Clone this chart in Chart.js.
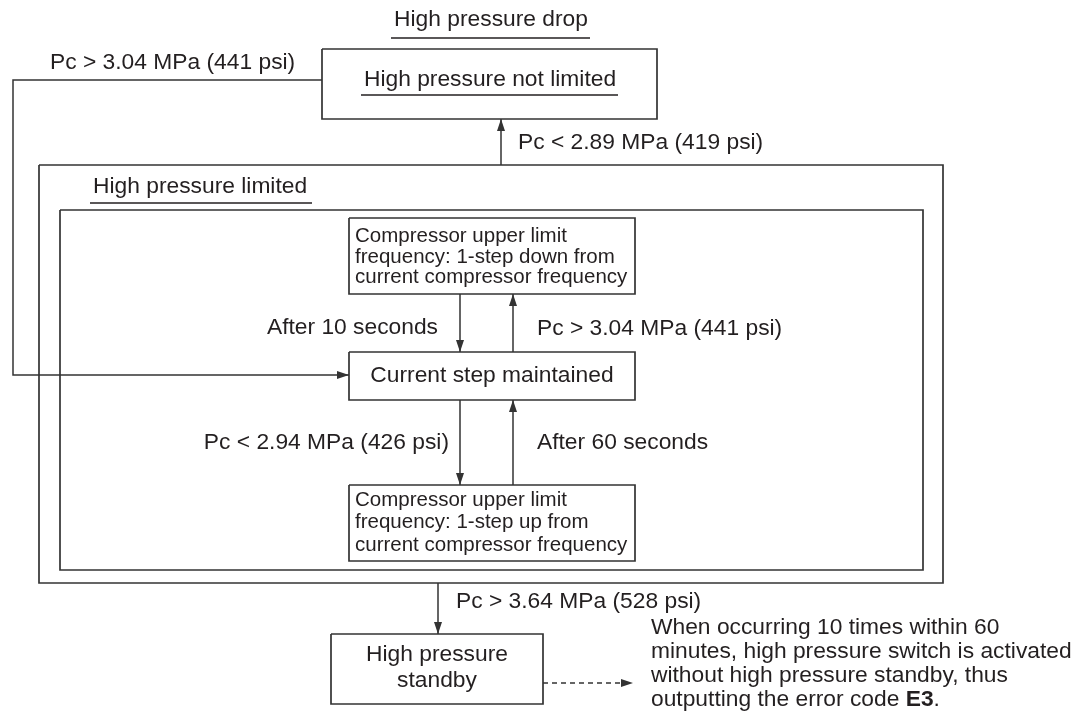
<!DOCTYPE html>
<html>
<head>
<meta charset="utf-8">
<script src="https://cdn.jsdelivr.net/npm/chart.js@4"></script>
<style>
  html, body { margin: 0; padding: 0; background: #fff; }
  #wrap { width: 1083px; height: 721px; }
</style>
</head>
<body>
<div id="wrap"><canvas id="myChart" width="1083" height="721"></canvas></div>
<script>
// diagram coordinates are page units: x 0..1083, y 0..721 (y counts downwards)
const frameBoxes = [
  [322, 49, 657, 119],   // High pressure not limited
  [39, 165, 943, 583],   // High pressure limited
  [60, 210, 923, 570]    // step loop
];
const stepBoxes = [
  [349, 218, 635, 294],  // 1-step down
  [349, 352, 635, 400],  // current step maintained
  [349, 485, 635, 561],  // 1-step up
  [331, 634, 543, 704]   // standby
];
const solidLinks = [
  [[322, 80], [13, 80], [13, 375], [349, 375]],
  [[501, 165], [501, 119]],
  [[460, 294], [460, 352]],
  [[513, 352], [513, 294]],
  [[460, 400], [460, 485]],
  [[513, 485], [513, 400]],
  [[438, 583], [438, 634]]
];
const dashedLinks = [
  [[543, 683], [633, 683]]
];

// [text, x, y, align]
const bigLabels = [
  ['High pressure drop', 491, 20, 'center'],
  ['High pressure not limited', 490, 80, 'center'],
  ['Pc > 3.04 MPa (441 psi)', 50, 63, 'left'],
  ['Pc < 2.89 MPa (419 psi)', 518, 143, 'left'],
  ['High pressure limited', 93, 187, 'left'],
  ['After 10 seconds', 438, 328, 'right'],
  ['Pc > 3.04 MPa (441 psi)', 537, 329, 'left'],
  ['Current step maintained', 492, 376, 'center'],
  ['Pc < 2.94 MPa (426 psi)', 449, 443, 'right'],
  ['After 60 seconds', 537, 443, 'left'],
  ['Pc > 3.64 MPa (528 psi)', 456, 602, 'left'],
  ['High pressure', 437, 655, 'center'],
  ['standby', 437, 681, 'center']
];
const boxLabels = [
  ['Compressor upper limit', 355, 236, 'left'],
  ['frequency: 1-step down from', 355, 257, 'left'],
  ['current compressor frequency', 355, 277, 'left'],
  ['Compressor upper limit', 355, 500, 'left'],
  ['frequency: 1-step up from', 355, 522, 'left'],
  ['current compressor frequency', 355, 545, 'left']
];
// [x0, x1, y]
const underlines = [[391, 590, 38], [361, 618, 95], [90, 312, 203]];
// note lines: segments of [text, bold]
const noteX = 651;
const noteY = [628, 652, 676, 700];
const noteLines = [
  [['When occurring 10 times within 60', false]],
  [['minutes, high pressure switch is activated', false]],
  [['without high pressure standby, thus', false]],
  [['outputting the error code ', false], ['E3', true], ['.', false]]
];

const INK = '#231f20';
const LINE = '#333333';
const FONT = '"Liberation Sans", Arial, Helvetica, sans-serif';

function rectPoints(b) {
  return [
    { x: b[0], y: b[1] }, { x: b[2], y: b[1] },
    { x: b[2], y: b[3] }, { x: b[0], y: b[3] }, { x: b[0], y: b[1] }
  ];
}
function pathPoints(p) {
  return p.map((q) => ({ x: q[0], y: q[1] }));
}

const datasets = [];
frameBoxes.concat(stepBoxes).forEach((b) => {
  datasets.push({ data: rectPoints(b), borderColor: LINE, borderWidth: 1.7, borderDash: [] });
});
solidLinks.forEach((p) => {
  datasets.push({ data: pathPoints(p), borderColor: LINE, borderWidth: 1.5, borderDash: [] });
});
dashedLinks.forEach((p) => {
  datasets.push({ data: pathPoints(p), borderColor: LINE, borderWidth: 1.3, borderDash: [5, 4] });
});
underlines.forEach((u) => {
  datasets.push({ data: [{ x: u[0], y: u[2] }, { x: u[1], y: u[2] }], borderColor: INK, borderWidth: 1.7, borderDash: [] });
});

/* text and arrow heads drawn on top, placed through the scales */
const diagramText = {
  id: 'diagramText',
  afterDatasetsDraw(chart) {
    const ctx = chart.ctx;
    const xs = chart.scales.x;
    const ys = chart.scales.y;
    const px = (v) => xs.getPixelForValue(v);
    const py = (v) => ys.getPixelForValue(v);
    ctx.save();

    // arrow heads
    ctx.fillStyle = LINE;
    solidLinks.concat(dashedLinks).forEach((p) => {
      const a = p[p.length - 2], b = p[p.length - 1];
      const x1 = px(a[0]), y1 = py(a[1]), x2 = px(b[0]), y2 = py(b[1]);
      const ang = Math.atan2(y2 - y1, x2 - x1);
      const len = 12, half = 4;
      ctx.beginPath();
      ctx.moveTo(x2, y2);
      ctx.lineTo(x2 - len * Math.cos(ang) + half * Math.sin(ang), y2 - len * Math.sin(ang) - half * Math.cos(ang));
      ctx.lineTo(x2 - len * Math.cos(ang) - half * Math.sin(ang), y2 - len * Math.sin(ang) + half * Math.cos(ang));
      ctx.closePath();
      ctx.fill();
    });

    ctx.fillStyle = INK;
    ctx.textBaseline = 'middle';
    ctx.font = '22.8px ' + FONT;
    bigLabels.forEach((t) => {
      ctx.textAlign = t[3];
      ctx.fillText(t[0], px(t[1]), py(t[2]));
    });
    ctx.font = '20.5px ' + FONT;
    boxLabels.forEach((t) => {
      ctx.textAlign = t[3];
      ctx.fillText(t[0], px(t[1]), py(t[2]));
    });

    ctx.textAlign = 'left';
    noteLines.forEach((segs, i) => {
      let x = px(noteX);
      segs.forEach((s) => {
        ctx.font = (s[1] ? 'bold ' : '') + '22.8px ' + FONT;
        ctx.fillText(s[0], x, py(noteY[i]));
        x += ctx.measureText(s[0]).width;
      });
    });
    ctx.restore();
  }
};

new Chart(document.getElementById('myChart'), {
  type: 'scatter',
  data: { datasets: datasets },
  options: {
    responsive: false,
    animation: false,
    showLine: true,
    layout: { padding: 0 },
    elements: {
      point: { radius: 0, hoverRadius: 0 },
      line: { tension: 0, fill: false, borderJoinStyle: 'miter', borderCapStyle: 'butt' }
    },
    scales: {
      x: { type: 'linear', min: 0, max: 1083, display: false },
      y: { type: 'linear', min: 0, max: 721, reverse: true, display: false }
    },
    plugins: {
      legend: { display: false },
      tooltip: { enabled: false }
    },
    events: []
  },
  plugins: [diagramText]
});
</script>
</body>
</html>
